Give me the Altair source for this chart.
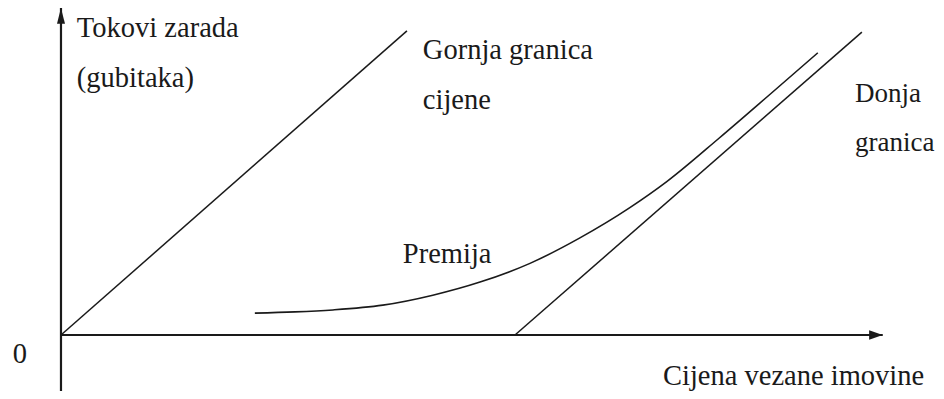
import altair as alt
import pandas as pd

# ---- data (abstract units: price S on x, payoff C on y) ----
# axes
xaxis_S = [0, 181]
xaxis_C = [0, 0]
yaxis_S = [0, 0]
yaxis_C = [-16, 82.2]

# upper bound (Gornja granica cijene): C = S
upper_S = [0, 76.2]
upper_C = [0, 76.4]

# lower bound (Donja granica): C = S - K
lower_S = [100, 176.4]
lower_C = [0, 76.1]

# option premium curve (Premija)
prem_S = [42.7, 51.5, 59.9, 70.9, 81.9, 92.3, 103.3, 114.3, 125.3, 133.5, 145.0, 156.0, 166.7]
prem_C = [5.5, 5.8, 6.3, 7.5, 10.0, 13.3, 18.0, 24.4, 32.0, 38.6, 49.5, 60.3, 70.9]

# labels
label_text = ["Tokovi zarada", "(gubitaka)", "Gornja granica", "cijene",
              "Premija", "Cijena vezane imovine", "0"]
label_S = [3.5, 3.5, 79.7, 79.7, 75.3, 132.6, -10.6]
label_C = [74.9, 62.3, 69.3, 56.8, 18.1, -12.5, -7.0]

# labels at the right edge
edge_text = ["Donja", "granica"]
edge_S = [174.9, 174.9]
edge_C = [58.5, 46.2]

# arrow tips
arrow_up_S = [0]
arrow_up_C = [82.2]
arrow_right_S = [181]
arrow_right_C = [0]

# ---- build tables ----
rows = []
def add(name, xs, ys, w):
    for i, (a, b) in enumerate(zip(xs, ys)):
        rows.append({"S": a, "C": b, "series": name, "i": i, "w": w})

add("xaxis", xaxis_S, xaxis_C, 2.2)
add("yaxis", yaxis_S, yaxis_C, 2.2)
add("upper", upper_S, upper_C, 1.5)
add("lower", lower_S, lower_C, 1.5)
lines_df = pd.DataFrame(rows)

prem_df = pd.DataFrame({"S": prem_S, "C": prem_C})
labels_df = pd.DataFrame({"S": label_S, "C": label_C, "t": label_text})
edge_df = pd.DataFrame({"S": edge_S, "C": edge_C, "t": edge_text})
up_df = pd.DataFrame({"S": arrow_up_S, "C": arrow_up_C})
right_df = pd.DataFrame({"S": arrow_right_S, "C": arrow_right_C})

W, H = 928, 383
XMIN, XMAX = -11.67, 192.73
YTOP = 82.16
YBOT = YTOP - H / 3.98

xs = alt.Scale(domain=[XMIN, XMAX], nice=False, zero=False)
ys = alt.Scale(domain=[YBOT, YTOP], nice=False, zero=False)
X = alt.X("S:Q", scale=xs, axis=None)
Y = alt.Y("C:Q", scale=ys, axis=None)

ink = "#1a1a1a"

lines = alt.Chart(lines_df).mark_line(color=ink, clip=False).encode(
    x=X, y=Y, detail="series:N", order="i:Q",
    strokeWidth=alt.StrokeWidth("w:Q", scale=None),
)

premium = alt.Chart(prem_df).mark_line(
    color=ink, strokeWidth=1.6, interpolate="monotone"
).encode(x=X, y=Y)

arrow_up = alt.Chart(up_df).mark_point(
    shape="M0,0L0.5,2L-0.5,2Z", filled=True, size=256, color=ink, opacity=1, strokeWidth=0
).encode(x=X, y=Y)

arrow_right = alt.Chart(right_df).mark_point(
    shape="M0,0L-1.7,-0.6L-1.7,0.6Z", filled=True, size=256, color=ink, opacity=1, strokeWidth=0
).encode(x=X, y=Y)

texts = alt.Chart(labels_df).mark_text(
    align="left", baseline="alphabetic", font="Liberation Serif",
    fontSize=28.5, color=ink
).encode(x=X, y=Y, text="t:N")

edge_texts = alt.Chart(edge_df).mark_text(
    align="left", baseline="alphabetic", font="Liberation Serif",
    fontSize=27, color=ink
).encode(x=X, y=Y, text="t:N")

chart = alt.layer(lines, premium, arrow_up, arrow_right, texts, edge_texts).properties(
    width=W, height=H, padding=0, autosize=alt.AutoSizeParams(type="none"),
    background="white",
).configure_view(stroke=None)

chart.save("out.html", embed_options={"renderer": "svg", "actions": False})
